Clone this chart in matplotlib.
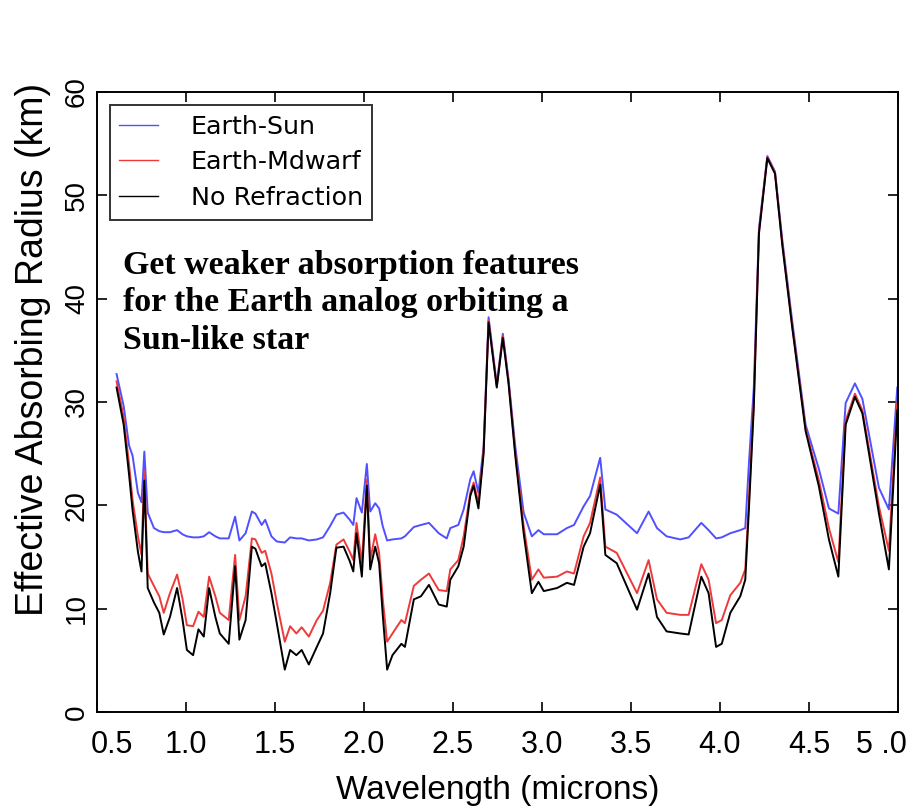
import numpy as np
from matplotlib import pyplot as plt
import matplotlib.transforms as mtransforms

# wavelength grid (microns) and effective absorbing radius (km)
wavelength = [0.61, 0.65, 0.68, 0.70, 0.73, 0.75, 0.766, 0.785, 0.82, 0.85,
              0.875, 0.91, 0.95, 0.98, 1.005, 1.04, 1.07, 1.10, 1.13, 1.165,
              1.19, 1.24, 1.276, 1.30, 1.335, 1.37, 1.39, 1.425, 1.445, 1.48,
              1.51, 1.555, 1.585, 1.62, 1.65, 1.69, 1.735, 1.77, 1.81, 1.845,
              1.885, 1.92, 1.94, 1.958, 1.988, 2.016, 2.035, 2.063, 2.085, 2.105,
              2.13, 2.16, 2.21, 2.23, 2.28, 2.32, 2.365, 2.42, 2.465, 2.485,
              2.53, 2.56, 2.597, 2.616, 2.643, 2.672, 2.70, 2.746, 2.78, 2.812,
              2.85, 2.897, 2.943, 2.98, 3.01, 3.085, 3.14, 3.18, 3.234, 3.27,
              3.327, 3.356, 3.42, 3.534, 3.599, 3.646, 3.70, 3.777, 3.824, 3.895,
              3.936, 3.978, 4.01, 4.058, 4.114, 4.142, 4.163, 4.19, 4.219, 4.266,
              4.309, 4.35, 4.406, 4.481, 4.556, 4.612, 4.665, 4.706, 4.758, 4.80,
              4.893, 4.949, 4.996]

earth_sun = [32.7, 29.6, 25.8, 24.8, 21.2, 20.3, 25.2, 19.3, 17.8, 17.5,
             17.4, 17.4, 17.6, 17.2, 17.0, 16.9, 16.9, 17.0, 17.4, 17.0,
             16.8, 16.8, 18.9, 16.6, 17.3, 19.4, 19.2, 18.1, 18.6, 17.0,
             16.5, 16.4, 16.9, 16.8, 16.8, 16.6, 16.7, 16.9, 18.0, 19.1,
             19.3, 18.6, 18.1, 20.7, 19.3, 24.0, 19.4, 20.2, 19.7, 18.0,
             16.6, 16.7, 16.8, 17.0, 17.9, 18.1, 18.3, 17.3, 16.8, 17.8,
             18.1, 19.6, 22.5, 23.3, 21.2, 25.7, 38.2, 31.7, 36.6, 32.2,
             25.7, 19.3, 17.0, 17.6, 17.2, 17.2, 17.8, 18.1, 19.9, 20.9,
             24.6, 19.6, 19.1, 17.3, 19.4, 17.8, 17.0, 16.7, 16.9, 18.3,
             17.6, 16.8, 16.9, 17.3, 17.6, 17.8, 24.2, 31.4, 46.8, 53.8,
             52.3, 45.7, 37.8, 27.8, 23.5, 19.7, 19.2, 29.9, 31.8, 30.3,
             21.7, 19.6, 31.4]

earth_mdwarf = [32.0, 28.5, 24.0, 20.5, 17.0, 15.2, 23.3, 13.4, 12.2, 11.2,
                9.6, 11.5, 13.3, 11.0, 8.4, 8.3, 9.7, 9.2, 13.1, 11.2,
                9.6, 8.9, 15.2, 8.9, 11.2, 16.8, 16.7, 15.4, 15.6, 13.4,
                10.6, 6.8, 8.3, 7.6, 8.2, 7.3, 8.9, 9.8, 12.5, 16.2,
                16.7, 15.5, 14.7, 18.3, 14.4, 22.5, 14.7, 17.2, 15.4, 11.0,
                6.8, 7.6, 8.9, 8.6, 12.2, 12.8, 13.4, 11.8, 11.7, 13.8,
                14.7, 17.0, 21.2, 22.2, 20.2, 25.3, 37.9, 31.5, 36.4, 32.0,
                25.1, 18.0, 12.8, 13.8, 13.0, 13.1, 13.6, 13.4, 17.0, 18.3,
                22.7, 16.0, 15.4, 11.5, 14.7, 10.9, 9.6, 9.4, 9.4, 14.3,
                12.8, 8.6, 8.9, 11.3, 12.5, 13.8, 20.6, 30.0, 46.5, 53.7,
                52.2, 45.4, 37.4, 27.4, 22.4, 17.8, 14.5, 28.2, 30.8, 29.2,
                19.9, 15.6, 30.0]

no_refraction = [31.4, 27.8, 23.0, 19.5, 15.5, 13.6, 22.4, 12.0, 10.6, 9.6,
                 7.5, 9.2, 12.0, 9.0, 6.0, 5.5, 8.0, 7.3, 12.0, 9.2,
                 7.6, 6.6, 14.1, 7.0, 8.9, 16.0, 15.8, 14.1, 14.4, 11.5,
                 8.6, 4.1, 6.0, 5.5, 6.0, 4.6, 6.3, 7.6, 11.5, 15.9,
                 16.0, 14.6, 13.6, 17.3, 13.1, 21.9, 13.8, 16.0, 14.4, 9.5,
                 4.1, 5.5, 6.6, 6.3, 10.9, 11.2, 12.3, 10.4, 10.2, 12.8,
                 14.1, 16.0, 20.9, 21.9, 19.7, 25.0, 37.7, 31.4, 36.2, 31.8,
                 24.8, 17.3, 11.5, 12.6, 11.7, 12.0, 12.5, 12.3, 16.0, 17.3,
                 22.0, 15.2, 14.4, 9.9, 13.4, 9.2, 7.8, 7.6, 7.5, 13.1,
                 11.5, 6.3, 6.6, 9.6, 11.2, 12.8, 19.8, 29.5, 46.3, 53.6,
                 52.1, 45.2, 37.2, 27.2, 21.8, 16.7, 13.1, 27.8, 30.5, 28.9,
                 19.2, 13.8, 29.2]

series_labels = ["Earth-Sun", "Earth-Mdwarf", "No Refraction"]
xtick_vals = [0.5, 1.0, 1.5, 2.0, 2.5, 3.0, 3.5, 4.0, 4.5, 5.0]
xtick_text = ["0.5", "1.0", "1.5", "2.0", "2.5", "3.0", "3.5", "4.0", "4.5", "5 .0"]
ytick_vals = [0, 10, 20, 30, 40, 50, 60]
note = "Get weaker absorption features\nfor the Earth analog orbiting a\nSun-like star"

SANS = ["Liberation Sans", "DejaVu Sans"]

fig = plt.figure(figsize=(9.15, 8.09), dpi=100)
ax = fig.add_axes([0.1060, 0.1199, 0.8754, 0.7664])

colors = ["#5050ff", "#ee3a3a", "black"]
for ys, c, lab in zip([earth_sun, earth_mdwarf, no_refraction], colors, series_labels):
    ax.plot(wavelength, ys, color=c, linewidth=1.4, label=lab)

ax.set_xlim(0.5, 5.0)
ax.set_ylim(0, 60)

for s in ax.spines.values():
    s.set_linewidth(1.4)
ax.tick_params(direction="in", top=True, right=True, length=7, width=1.2)

ax.set_xticks(xtick_vals)
ax.set_xticklabels(xtick_text, family=SANS, fontsize=22)
ax.tick_params(axis="x", pad=13)
# edge labels sit a little inside the frame in the original
xlabels = ax.get_xticklabels()
xlabels[0].set_transform(xlabels[0].get_transform() +
                         mtransforms.ScaledTranslation(0.15, 0, fig.dpi_scale_trans))
xlabels[-1].set_transform(xlabels[-1].get_transform() +
                          mtransforms.ScaledTranslation(-0.17, 0, fig.dpi_scale_trans))

ax.set_yticks(ytick_vals)
ax.set_yticklabels([str(v) for v in ytick_vals], family=SANS, fontsize=20,
                   rotation=90, va="center")
ax.tick_params(axis="y", pad=5)

ax.set_xlabel("Wavelength (microns)", family=SANS, fontsize=24, labelpad=11)
ax.set_ylabel("Effective Absorbing Radius (km)", family=SANS, fontsize=27)
ax.yaxis.set_label_coords(-0.058, 0.585)

leg = ax.legend(loc="upper left", bbox_to_anchor=(0.016, 0.979), borderaxespad=0,
                prop={"family": "DejaVu Sans", "size": 18.3}, frameon=True,
                fancybox=False, handlelength=1.5, handletextpad=1.3,
                labelspacing=0.46, borderpad=0.38)
leg.get_frame().set_edgecolor("black")
leg.get_frame().set_linewidth(1.4)
for h in leg.get_lines():
    h.set_linewidth(1.0)

ax.text(0.032, 0.745, note, transform=ax.transAxes, family=["Liberation Serif", "DejaVu Serif"],
        fontweight="bold", fontsize=24.5, va="top", ha="left", linespacing=1.26)

fig.savefig("out.png", dpi=100)
